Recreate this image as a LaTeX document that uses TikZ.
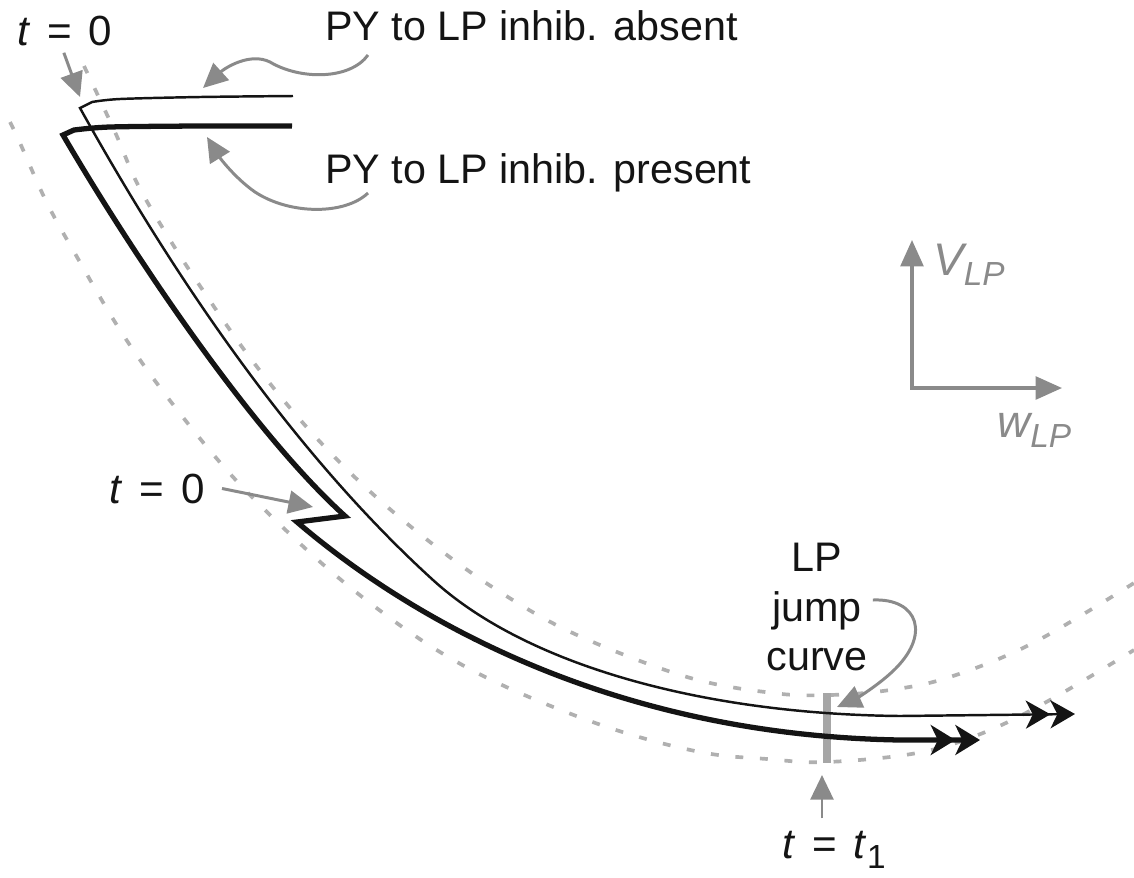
\documentclass[tikz,border=0pt]{standalone}
\usepackage{fontspec}
\setmainfont{Liberation Sans}
\usepackage{xcolor}
\definecolor{lpink}{HTML}{141414}
\definecolor{lpgray}{HTML}{8A8A8A}
\definecolor{lpdash}{HTML}{B0B0B0}
\definecolor{lpbar}{HTML}{A6A6A6}
\usetikzlibrary{arrows.meta,calc}

\newcommand{\teq}[1]{\textit{t}\hspace{0.4em}=\hspace{0.4em}#1}
\newcommand{\lpsub}[1]{\raisebox{-6pt}{\fontsize{19}{19}\selectfont #1}}

\begin{document}
\begin{tikzpicture}[x=0.02cm, y=-0.02cm,
  lbl/.style={inner sep=0pt, font=\fontsize{23.5}{28}\selectfont, text=lpink},
  tlbl/.style={inner sep=0pt, font=\fontsize{24}{28}\selectfont, text=lpink},
  axlbl/.style={inner sep=0pt, font=\fontsize{26}{30}\selectfont\itshape, text=lpgray},
  nullc/.style={draw=lpdash, line width=2.1pt, dash pattern=on 4.5pt off 9.5pt},
  trajthin/.style={draw=lpink, line width=1.4pt,
    -{Stealth[length=14pt,width=16pt,inset=4pt]Stealth[length=14pt,width=16pt,inset=4pt]}},
  trajthick/.style={draw=lpink, line width=3pt,
    -{Stealth[length=14pt,width=17pt,inset=4pt]Stealth[length=14pt,width=17pt,inset=4pt]}},
  ann/.style={draw=lpgray, line width=1.7pt, -{Triangle[length=14pt,width=13pt]}},
  axarr/.style={draw=lpgray, line width=1.8pt, line join=miter}
]
  \useasboundingbox (0,0) rectangle (1134,877);

  %% LP jump curve (dashed band)
  \draw[nullc] plot[smooth, tension=0.6] coordinates {(84,66) (115,132) (137,183)
    (167,235) (198,283) (248,355) (303,423) (363,485) (430,542) (500,592)
    (577,635) (687,677) (773,693) (830,695) (890,690) (950,677) (1033,643)
    (1134,583)};
  \draw[nullc] plot[smooth, tension=0.6] coordinates {(10,122) (20,143) (47,203)
    (77,257) (120,330) (168,398) (233,477) (307,550) (370,603) (440,652)
    (513,690) (610,728) (700,752) (767,759) (827,762) (917,753) (983,733)
    (1050,700) (1134,650)};
  \draw[draw=lpbar, line width=4.5pt] (827,693) -- (827,763);

  %% trajectories
  \draw[trajthin] plot[smooth, tension=0.5] coordinates {(293,96) (200,97) (120,99) (92,102)}
    -- (80,108)
    .. controls (170,270) and (290,450) .. (433,580)
    .. controls (525,664) and (700,714) .. (900,716)
    -- (1075,714);
  \draw[trajthick] plot[smooth, tension=0.5] coordinates {(292,126) (200,126) (110,127) (74,130)}
    -- (63,135)
    .. controls (130,250) and (250,430) .. (345,516)
    -- (297,522)
    .. controls (400,610) and (600,735) .. (900,740)
    -- (980,740);

  %% labels
  \node[tlbl, anchor=base west] (tztop) at (17,45) {\teq{0}};
  \node[lbl, anchor=base west] (absent) at (325,40) {PY to LP inhib. absent};
  \node[lbl, anchor=base west] (present) at (325,183) {PY to LP inhib. present};
  \node[tlbl, anchor=base east] (tzmid) at (205,503) {\teq{0}};
  \node[lbl, align=center] (jumplbl) at (817,607) {LP\\jump\\curve};
  \node[tlbl, anchor=base west] (tone) at (782,858) {\teq{\textit{t}\lpsub{1}}};
  \node[axlbl, anchor=base west] (vlp) at (933,275) {V\lpsub{LP}};
  \node[axlbl, anchor=base west] (wlp) at (997,437) {w\lpsub{LP}};

  %% arrow ends
  \coordinate (tzTopTip) at (80,97);
  \coordinate (absTip) at (203,88);
  \coordinate (presTip) at (207,137);
  \coordinate (tzMidTip) at (313,507);
  \coordinate (jumpTip) at (837,707);
  \coordinate (toneTip) at (822,775);

  %% pointers
  \draw[ann] ($(tztop.south)+(-1,7)$) -- (tzTopTip);
  \draw[ann] ($(absent.base west)+(43,15)$) .. controls (350,80) and (300,80) .. (270,62)
    .. controls (250,52) and (225,68) .. (absTip);
  \draw[ann] ($(present.base west)+(43,10)$) .. controls (345,215) and (290,215) .. (255,192)
    .. controls (235,178) and (220,158) .. (presTip);
  \draw[ann] ($(tzmid.east)+(17,0)$) -- (tzMidTip);
  \draw[ann] ($(jumplbl.east)+(5,-7)$) .. controls (918,598) and (932,635) .. (892,672)
    .. controls (877,686) and (857,698) .. (jumpTip);
  \draw[ann] ($(tone.north west)+(40,-12)$) -- (toneTip);

  %% axes
  \coordinate (org) at (912,388);
  \coordinate (vend) at (912,240);
  \coordinate (wend) at (1062,388);
  \draw[axarr, {Triangle[length=15pt,width=13pt]}-{Triangle[length=15pt,width=13pt]}]
    (vend) -- (org) -- (wend);
\end{tikzpicture}
\end{document}
